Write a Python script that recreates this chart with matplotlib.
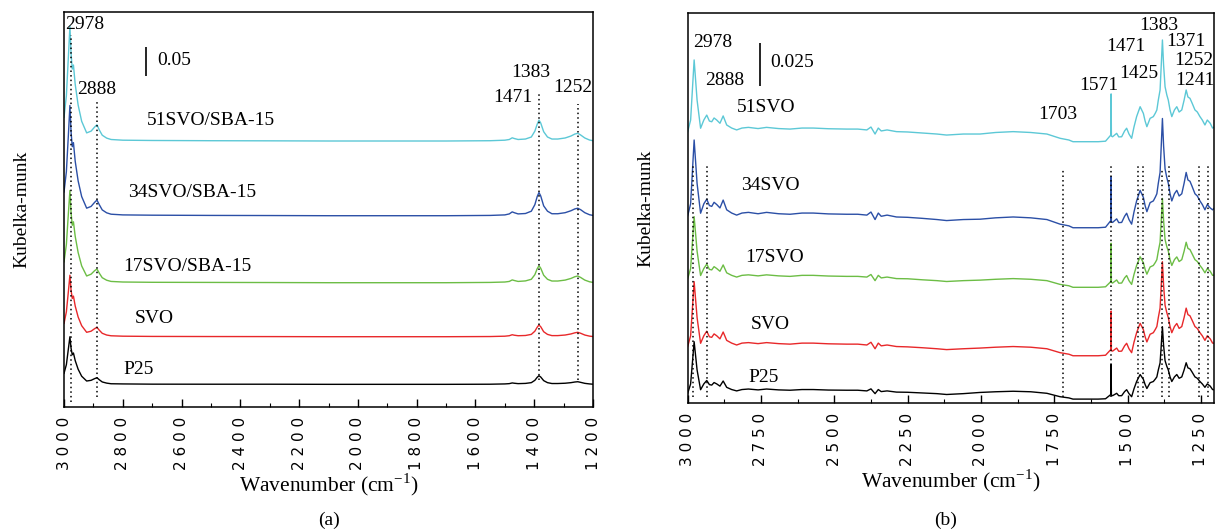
"""
DRIFT spectra (Kubelka-Munk) of SVO catalysts: panel (a) SBA-15 supported,
panel (b) bulk samples. Values read off the published figure.
Intensities are stored in units of 1e-3 Kubelka-Munk, relative to each
trace's own baseline; the stacking offsets are layout only.
"""

import matplotlib
matplotlib.use("Agg")
import matplotlib.pyplot as plt
from matplotlib.ticker import MultipleLocator, FuncFormatter

plt.rcParams["font.family"] = "Liberation Serif"
plt.rcParams["mathtext.fontset"] = "custom"
plt.rcParams["mathtext.rm"] = "Liberation Serif"

# ----------------------------------------------------------------------
# Panel (a) data
# ----------------------------------------------------------------------
wn_a = [3000, 2992, 2985, 2980, 2976, 2972, 2968, 2962, 2952, 2940,
        2923, 2908, 2896, 2888, 2880, 2870, 2855, 2840, 2800, 2700,
        2500, 2300, 2100, 1900, 1700, 1550, 1500, 1485, 1475, 1468,
        1455, 1430, 1410, 1398, 1390, 1384, 1378, 1368, 1355, 1340,
        1320, 1295, 1275, 1262, 1252, 1242, 1228, 1212, 1200]

a_51svo = [41, 78, 147, 198, 150, 124, 131, 98, 62, 34,
           14, 17, 24, 28, 19, 10, 5, 2.6, 1.4, 0.9,
           0.5, 0.3, 0, 0, 0, 0.5, 1.4, 2.6, 5.5, 4.3,
           2.6, 3.4, 6.9, 17, 29, 36, 31, 16, 6.9, 3.4,
           3.4, 5.2, 8.6, 12, 13.3, 10.3, 5.2, 1.7, 0.5]
a_34svo = [41, 76, 141, 190, 144, 119, 126, 94, 60, 33,
           13, 16, 23, 27, 19, 10, 5, 2.6, 1.4, 0.9,
           0.5, 0.3, 0, 0, 0, 0.5, 1.4, 3.1, 6.6, 5.2,
           3.1, 3.8, 7.8, 19, 33, 40, 34, 17, 7.8, 3.4,
           3.4, 5.2, 8.6, 11.7, 12.9, 10.3, 5.2, 1.7, 0.5]
a_17svo = [36, 66, 121, 159, 120, 99, 105, 80, 52, 29,
           11.6, 14.7, 20.7, 23.6, 16.4, 8.6, 4.3, 2.2, 1.2, 0.7,
           0.5, 0.3, 0, 0, 0, 0.5, 1.2, 2.2, 4.8, 3.8,
           2.2, 3.1, 5.9, 13.8, 24.1, 29.3, 25, 12.9, 5.9, 2.9,
           2.9, 4.5, 7.4, 10.3, 11.6, 9, 4.5, 1.6, 0.5]
a_svo = [23, 43, 79, 106, 80, 66, 70, 53, 34, 19,
         7.6, 9.5, 13.8, 16.2, 11.2, 5.9, 2.9, 1.6, 0.9, 0.5,
         0.3, 0.2, 0, 0, 0, 0.3, 0.9, 1.7, 3.4, 2.6,
         1.7, 2.1, 4, 9.5, 16.4, 20.2, 17.2, 8.6, 4, 1.9,
         1.9, 2.9, 4.8, 6.7, 7.6, 5.9, 2.9, 1, 0.3]
a_p25 = [19, 34, 62, 82, 62, 51, 54, 41, 26, 14,
         5.7, 6.9, 9.8, 11.4, 7.9, 4.1, 2.1, 1, 0.7, 0.3,
         0.2, 0.2, 0, 0, 0, 0.2, 0.7, 1.2, 2.4, 1.9,
         1.2, 1.6, 2.9, 6.9, 12.1, 14.8, 12.6, 6.4, 2.9, 1.4,
         1.4, 1.9, 2.9, 4, 4.5, 3.4, 1.7, 0.7, 0.2]

names_a = ["51SVO/SBA-15", "34SVO/SBA-15", "17SVO/SBA-15", "SVO", "P25"]
peaks_a = ["2978", "2888", "1471", "1383", "1252"]
lines_a = [2976, 2888, 1383, 1252]

# ----------------------------------------------------------------------
# Panel (b) data
# ----------------------------------------------------------------------
wn_b = [3000, 2990, 2978, 2968, 2956, 2945, 2935, 2926, 2918, 2910,
        2901, 2890, 2879, 2867, 2850, 2833, 2815, 2793, 2760, 2731,
        2690, 2651, 2610, 2572, 2520, 2458, 2420, 2389, 2375, 2361,
        2350, 2340, 2320, 2288, 2250, 2200, 2150, 2117, 2060, 2003,
        1950, 1890, 1830, 1775, 1730, 1700, 1686, 1650, 1600, 1575,
        1562, 1557, 1556, 1555, 1551, 1537, 1530, 1520, 1510, 1503,
        1495, 1486, 1478, 1469, 1457, 1446, 1440, 1434, 1423, 1412,
        1405, 1400, 1395, 1389, 1385, 1381, 1377, 1372, 1366, 1361,
        1355, 1349, 1340, 1332, 1324, 1315, 1307, 1300, 1294, 1287,
        1280, 1270, 1262, 1253, 1245, 1236, 1228, 1218, 1210, 1201]

b_51svo = [5.9, 12.7, 47.9, 24.4, 7.9, 12.7, 15.6, 12.1, 11.7, 13.9,
           12.7, 10.8, 15.1, 9.8, 8.0, 6.9, 8.0, 8.4, 7.7, 8.4,
           7.7, 7.4, 8.0, 8.0, 7.6, 7.4, 7.4, 6.9, 8.6, 4.5,
           8.0, 6.3, 6.9, 5.9, 5.7, 5.1, 4.5, 3.9, 4.5, 4.5,
           5.4, 5.9, 5.4, 4.5, 2.0, 1.0, 0.0, 0.0, 0.0, 0.3,
           2.9, 3.9, 28.0, 3.3, 2.9, 4.9, 2.8, 2.9, 6.3, 7.9,
           4.5, 2.0, 8.6, 14.7, 20.5, 16.6, 12.1, 8.8, 13.7, 14.7,
           16.8, 18.6, 24.4, 30.3, 44.9, 59.6, 44.9, 32.2, 27.4, 24.4,
           18.6, 14.7, 18.6, 20.5, 17.4, 18.6, 24.4, 30.3, 26.2, 25.4,
           22.7, 18.6, 17.4, 14.7, 12.7, 9.8, 12.7, 10.8, 8.0, 8.8]
b_34svo = [7.0, 14.0, 51.4, 26.0, 8.5, 14.0, 16.7, 13.0, 12.5, 14.9,
           13.6, 11.6, 16.2, 10.5, 8.6, 7.4, 8.6, 9.0, 8.2, 9.0,
           8.2, 7.9, 8.6, 8.6, 8.1, 7.9, 7.9, 7.4, 9.2, 4.8,
           8.6, 6.7, 7.4, 6.3, 6.1, 5.5, 4.8, 4.2, 4.8, 5.0,
           5.8, 6.3, 5.8, 4.8, 2.1, 1.1, 0.0, 0.0, 0.0, 0.3,
           3.1, 4.2, 29.9, 3.5, 3.1, 5.2, 3.0, 3.1, 6.7, 8.5,
           4.8, 2.1, 9.2, 15.7, 21.9, 17.8, 12.9, 9.4, 14.7, 15.7,
           18.0, 19.9, 26.1, 32.4, 48.0, 64.0, 48.0, 34.5, 29.3, 26.1,
           19.9, 15.7, 19.9, 21.9, 18.6, 19.9, 26.1, 32.4, 28.0, 27.2,
           24.3, 19.9, 18.6, 15.7, 13.6, 10.5, 13.6, 11.6, 10.5, 12.0]
b_17svo = [5.1, 11.0, 41.4, 21.2, 6.9, 11.0, 13.6, 10.5, 10.2, 12.1,
           11.0, 9.4, 13.1, 8.5, 7.0, 6.0, 7.0, 7.3, 6.7, 7.3,
           6.7, 6.4, 7.0, 7.0, 6.6, 6.4, 6.4, 6.0, 7.5, 3.9,
           7.0, 5.5, 6.0, 5.1, 5.0, 4.4, 3.9, 3.4, 3.9, 4.2,
           4.7, 5.1, 4.7, 3.9, 1.7, 0.9, 0.0, 0.0, 0.0, 0.3,
           2.5, 3.4, 25.8, 2.9, 2.5, 4.3, 2.4, 2.5, 5.5, 6.9,
           3.9, 1.7, 7.5, 12.8, 17.9, 14.4, 10.5, 7.7, 11.9, 12.8,
           14.6, 16.2, 21.2, 26.4, 39.1, 52.1, 39.1, 28.0, 23.8, 21.2,
           16.2, 12.8, 16.2, 17.8, 15.1, 16.2, 21.2, 26.4, 22.8, 22.1,
           19.7, 16.2, 15.1, 12.8, 11.0, 8.5, 11.0, 9.4, 7.0, 7.2]
b_svo = [5.4, 11.7, 43.4, 22.4, 7.3, 11.7, 14.4, 11.1, 10.8, 12.8,
         11.7, 9.9, 13.9, 9.0, 7.4, 6.3, 7.4, 7.7, 7.1, 7.7,
         7.1, 6.8, 7.4, 7.4, 7.0, 6.8, 6.8, 6.3, 7.9, 4.1,
         7.4, 5.8, 6.3, 5.4, 5.2, 4.7, 4.1, 3.6, 4.1, 4.5,
         5.0, 5.4, 5.0, 4.1, 1.8, 0.9, 0.0, 0.0, 0.0, 0.3,
         2.7, 3.6, 26.2, 3.0, 2.7, 4.5, 2.6, 2.7, 5.8, 7.3,
         4.1, 1.8, 7.9, 13.5, 19.0, 15.3, 11.1, 8.1, 12.6, 13.5,
         15.5, 17.1, 22.4, 27.9, 41.3, 55.1, 41.3, 29.6, 25.2, 22.4,
         17.1, 13.5, 17.1, 18.9, 16.0, 17.1, 22.4, 27.9, 24.1, 23.4,
         20.9, 17.1, 16.0, 13.5, 11.7, 9.0, 11.7, 9.9, 7.4, 7.3]
b_p25 = [3.4, 8.9, 33.6, 17.1, 5.5, 8.9, 10.9, 8.5, 8.2, 9.7,
         8.9, 7.6, 10.6, 6.9, 5.6, 4.8, 5.6, 5.9, 5.4, 5.9,
         5.4, 5.2, 5.6, 5.6, 5.3, 5.2, 5.2, 4.8, 6.0, 3.2,
         5.6, 4.4, 4.8, 4.1, 4.0, 3.6, 3.2, 2.7, 3.2, 3.9,
         4.3, 4.6, 4.3, 3.4, 1.4, 0.7, 0.0, 0.0, 0.0, 0.2,
         2.0, 2.7, 20.3, 2.3, 2.0, 3.4, 2.0, 2.0, 4.4, 5.5,
         3.2, 1.4, 6.0, 10.3, 14.4, 11.6, 8.5, 6.2, 9.6, 10.3,
         11.8, 13.0, 17.1, 21.2, 31.4, 42.4, 31.4, 22.5, 19.2, 17.1,
         13.0, 10.3, 13.0, 14.4, 12.2, 13.0, 17.1, 21.3, 18.3, 17.8,
         15.9, 13.0, 12.2, 10.3, 8.9, 6.9, 8.9, 7.6, 5.6, 5.3]

names_b = ["51SVO", "34SVO", "17SVO", "SVO", "P25"]
peaks_b = ["2978", "2888", "1703", "1571", "1471", "1425",
           "1383", "1371", "1252", "1241"]
lines_b = [2981, 2933, 1721, 1556, 1465, 1448, 1382, 1359, 1256, 1226]

colors = ["#5cc8d6", "#2b4fa6", "#6cbd45", "#e8282a", "#000000"]

# ----------------------------------------------------------------------
# layout (stack offsets, label anchors) in data units
# ----------------------------------------------------------------------
offset_a = [458.6, 329.8, 214.3, 121.2, 39.1]
offset_b = [153.1, 102.7, 67.8, 27.7, 2.3]

name_pos_a = [(2718, 494.8), (2782, 369), (2799, 241.9), (2758, 153.4), (2799, 65.5)]
peak_pos_a = [(2929, 660), (2889, 548), (1474, 533), (1412, 576), (1270, 550)]
name_pos_b = [(2831, 173), (2818, 127.7), (2805, 85.4), (2785, 46.3), (2793, 15.1)]
peak_pos_b = [(2915, 211.3), (2873, 189.2), (1739, 169.3), (1599, 186.3),
              (1505, 208.7), (1461, 193.1), (1393, 220.9), (1301, 211.7),
              (1273, 200.5), (1270, 189.2)]


def spaced(v, pos):
    return " ".join(f"{v:.0f}")


def style_axis(ax, xlim, major, minor, ylim):
    ax.set_xlim(*xlim)
    ax.set_ylim(*ylim)
    ax.set_yticks([])
    ax.xaxis.set_major_locator(MultipleLocator(major))
    ax.xaxis.set_minor_locator(MultipleLocator(minor))
    ax.xaxis.set_major_formatter(FuncFormatter(spaced))
    ax.tick_params(axis="x", which="major", direction="in", length=6,
                   width=1, pad=7, labelrotation=90, labelsize=11)
    ax.tick_params(axis="x", which="minor", direction="in", length=3, width=0.8)
    for lab in ax.get_xticklabels():
        lab.set_fontfamily("DejaVu Sans")
    for s in ax.spines.values():
        s.set_linewidth(1.1)
    ax.set_xlabel(r"Wavenumber (cm$^{-1}$)", fontsize=15.5, labelpad=1)
    ax.set_ylabel("Kubelka-munk", fontsize=14, labelpad=24)


fig = plt.figure(figsize=(12.15, 5.31), dpi=100)
ax_a = fig.add_axes([0.0527, 0.2335, 0.4354, 0.7439])
ax_b = fig.add_axes([0.566, 0.241, 0.4332, 0.7345])

# ---- panel (a)
traces_a = [a_51svo, a_34svo, a_17svo, a_svo, a_p25]
for vals, off, c in zip(traces_a, offset_a, colors):
    ax_a.plot(wn_a, [v + off for v in vals], color=c, lw=1.0)
ax_a.vlines(lines_a, [8.6, 17, 46.6, 46.6], [641, 529, 543, 522],
            colors="k", linestyles=(0, (1, 2)), lw=1.1)
for name, (x, y) in zip(names_a, name_pos_a):
    ax_a.text(x, y, name, fontsize=14, ha="left", va="center")
for p, (x, y) in zip(peaks_a, peak_pos_a):
    ax_a.text(x, y, p, fontsize=14, ha="center", va="center")
ax_a.vlines(2721, 571.2, 621.2, colors="k", lw=1.2)
ax_a.text(2683, 596.6, "0.05", fontsize=14, ha="left", va="center")
style_axis(ax_a, (3000, 1200), 200, 100, (0, 681))

# ---- panel (b)
traces_b = [b_51svo, b_34svo, b_17svo, b_svo, b_p25]
for vals, off, c in zip(traces_b, offset_b, colors):
    ax_b.plot(wn_b, [v + off for v in vals], color=c, lw=1.0)
ax_b.vlines(lines_b, 3.5, [139.4, 139.4, 136.5, 140, 140, 140, 137, 140, 140, 140],
            colors="k", linestyles=(0, (1, 2)), lw=1.1)
for name, (x, y) in zip(names_b, name_pos_b):
    ax_b.text(x, y, name, fontsize=14, ha="left", va="center")
for p, (x, y) in zip(peaks_b, peak_pos_b):
    ax_b.text(x, y, p, fontsize=14, ha="center", va="center")
ax_b.vlines(2753, 185.7, 210.7, colors="k", lw=1.2)
ax_b.text(2719, 199.4, "0.025", fontsize=14, ha="left", va="center")
style_axis(ax_b, (3000, 1205), 250, 125, (0, 228.5))

fig.text(0.271, 1 - 520 / 531, "(a)", fontsize=14, ha="center", va="center")
fig.text(0.778, 1 - 520 / 531, "(b)", fontsize=14, ha="center", va="center")

fig.savefig("out.png", dpi=100)
